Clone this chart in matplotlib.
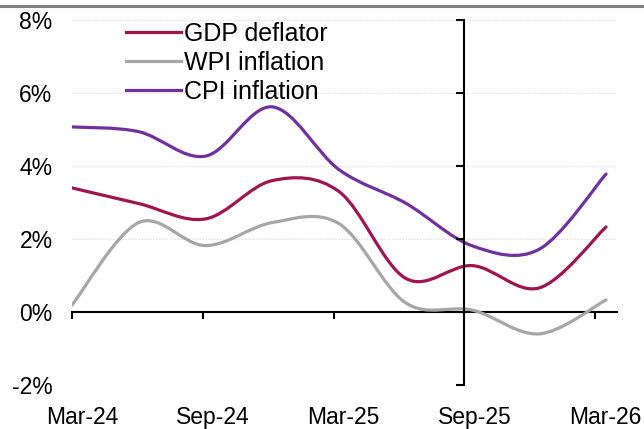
import numpy as np
import matplotlib.pyplot as plt
from matplotlib.path import Path
from matplotlib.patches import PathPatch
from matplotlib.lines import Line2D
from matplotlib.transforms import ScaledTranslation

plt.rcParams['font.family'] = ['Liberation Sans', 'DejaVu Sans']

# quarterly points, Mar-24 .. Mar-26 (index positions)
quarters = [0, 1, 2, 3, 4, 5, 6, 7, 8]
gdp_deflator = [3.40, 2.97, 2.55, 3.60, 3.30, 0.92, 1.27, 0.66, 2.33]
wpi_inflation = [0.19, 2.45, 1.82, 2.45, 2.42, 0.25, 0.05, -0.60, 0.33]
cpi_inflation = [5.07, 4.94, 4.27, 5.62, 3.90, 2.98, 1.81, 1.72, 3.78]

tick_labels = ['Mar-24', 'Sep-24', 'Mar-25', 'Sep-25', 'Mar-26']
tick_pos = [0, 1.96, 3.92, 5.88, 7.84]
y_ticks = [-2, 0, 2, 4, 6, 8]

series = [
    ('GDP deflator', gdp_deflator, '#A0144F'),
    ('WPI inflation', wpi_inflation, '#A6A6A6'),
    ('CPI inflation', cpi_inflation, '#7030A0'),
]


def smooth_path(xs, ys):
    # excel style smoothed line: cubic bezier through every point
    pts = np.column_stack([xs, ys]).astype(float)
    n = len(pts)
    verts = [pts[0]]
    codes = [Path.MOVETO]
    for i in range(n - 1):
        p0 = pts[i - 1] if i > 0 else pts[i]
        p1 = pts[i]
        p2 = pts[i + 1]
        p3 = pts[i + 2] if i + 2 < n else pts[i + 1]
        verts += [p1 + (p2 - p0) / 6, p2 - (p3 - p1) / 6, p2]
        codes += [Path.CURVE4] * 3
    return Path(verts, codes)


fig = plt.figure(figsize=(6.44, 4.29), dpi=100)
ax = fig.add_axes([0.1118, 0.1026, 0.8463, 0.8508])

for name, vals, col in series:
    patch = PathPatch(smooth_path(quarters, vals), facecolor='none', edgecolor=col,
                      linewidth=2.3, capstyle='round', joinstyle='round', zorder=3)
    ax.add_patch(patch)

ax.set_xlim(0, 8.165)
ax.set_ylim(-2, 8)
ax.set_yticks(y_ticks)
ax.set_yticklabels([f'{v}%' for v in y_ticks])
ax.tick_params(axis='y', length=0, pad=14, labelsize=16.5)
for v in y_ticks:
    if v != 0:
        ax.axhline(v, color='#D9D9D9', linewidth=0.8, linestyle=(0, (1, 1.5)), zorder=1)

for s in ['top', 'right', 'left']:
    ax.spines[s].set_visible(False)
ax.spines['bottom'].set_position(('data', 0))
ax.spines['bottom'].set_linewidth(1.5)
ax.set_xticks(tick_pos)
ax.set_xticklabels(tick_labels)
ax.tick_params(axis='x', direction='out', length=5, width=1.5, pad=63, labelsize=16.5)
for lab in ax.get_xticklabels():
    lab.set_transform(lab.get_transform() + ScaledTranslation(0.10, 0, fig.dpi_scale_trans))

# vertical axis line at Sep-25 with left ticks
ax2 = ax.twinx()
ax2.set_ylim(-2, 8)
for s in ['top', 'right', 'bottom']:
    ax2.spines[s].set_visible(False)
ax2.spines['left'].set_visible(True)
ax2.spines['left'].set_position(('data', 5.88))
ax2.spines['left'].set_linewidth(1.5)
ax2.yaxis.set_ticks_position('left')
ax2.set_yticks(y_ticks)
ax2.tick_params(axis='y', direction='out', length=6, width=1.5, labelleft=False, labelright=False)

handles = [Line2D([], [], color=col, linewidth=2.3) for _, _, col in series]
leg = ax.legend(handles, [s[0] for s in series], loc='upper left',
                bbox_to_anchor=(0.099, 0.995), frameon=False, fontsize=18,
                handlelength=2.2, handletextpad=0.12, labelspacing=0.2,
                borderaxespad=0, borderpad=0)
leg.set_zorder(5)

fig.add_artist(Line2D([0, 1], [0.986, 0.986], color='#7F7F7F', linewidth=2.2,
                      transform=fig.transFigure))

fig.savefig('out.png', dpi=100)
